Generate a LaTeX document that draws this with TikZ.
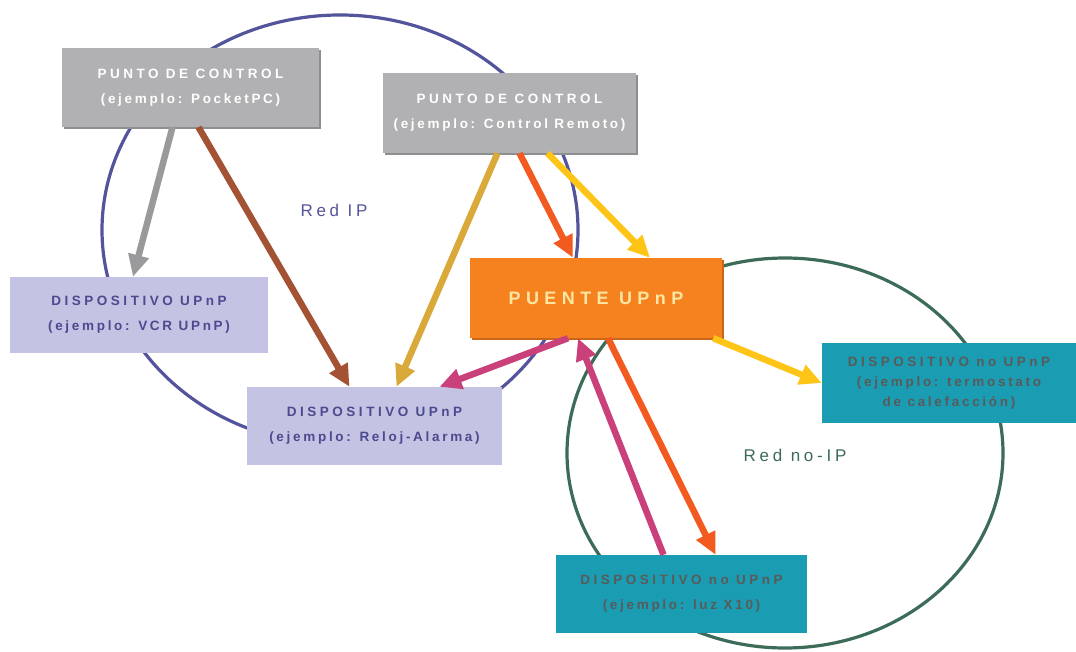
\documentclass[tikz,border=0pt]{standalone}
\usepackage{fontspec}
\setmainfont{Liberation Sans}
\newfontfamily\capsfont[LetterSpace=26]{Liberation Sans}
\newfontfamily\lowfont[LetterSpace=20]{Liberation Sans}
\newfontfamily\bridgefont[LetterSpace=30]{Liberation Sans}
\newfontfamily\labelfont[LetterSpace=22]{Liberation Sans}
\usetikzlibrary{arrows.meta,shadows}

% palette
\definecolor{ctrlgrey}{HTML}{B1B1B3}
\definecolor{ctrlshade}{HTML}{8E8E92}
\definecolor{devlav}{HTML}{C5C3E3}
\definecolor{devtext}{HTML}{4B4A8E}
\definecolor{bridgeorange}{HTML}{F5821F}
\definecolor{bridgeshade}{HTML}{C9661A}
\definecolor{bridgetext}{HTML}{FDE6A2}
\definecolor{tealbox}{HTML}{1A9DB3}
\definecolor{tealtext}{HTML}{5A5A58}
\definecolor{ipblue}{HTML}{54549C}
\definecolor{nongreen}{HTML}{3C6B58}
\definecolor{agrey}{HTML}{9A9A9C}
\definecolor{abrown}{HTML}{A35234}
\definecolor{agold}{HTML}{D9A93A}
\definecolor{ared}{HTML}{F25A20}
\definecolor{ayellow}{HTML}{FFC516}
\definecolor{amagenta}{HTML}{C9407A}

\tikzset{
  box/.style={rectangle, inner sep=0pt, align=center},
  ctrlbox/.style={box, fill=ctrlgrey, text=white,
    general shadow={fill=ctrlshade, shadow xshift=2pt, shadow yshift=-2pt},
    font=\fontsize{13.5}{25}\selectfont\bfseries},
  devbox/.style={box, fill=devlav, text=devtext,
    font=\fontsize{13.5}{25}\selectfont\bfseries},
  bridgebox/.style={box, fill=bridgeorange, text=bridgetext,
    general shadow={fill=bridgeshade, shadow xshift=2pt, shadow yshift=-2pt},
    font=\fontsize{18}{20}\selectfont\bfseries},
  nonbox/.style={box, fill=tealbox, text=tealtext,
    font=\fontsize{13.5}{25}\selectfont\bfseries},
  netlabel/.style={font=\fontsize{17}{19}\selectfont\labelfont},
  link/.style={line width=6.5pt, -{Triangle[length=22pt,width=20pt]}},
}

\begin{document}
\begin{tikzpicture}[x=1pt,y=-1pt]
  \fill[white] (0,0) rectangle (1076,652);
  \useasboundingbox (0,0) rectangle (1076,652);

  % the two networks
  \draw[ipblue, line width=3.2pt] (340,230) ellipse [x radius=238pt, y radius=215pt];
  \draw[nongreen, line width=3.2pt] (785,453) ellipse [x radius=218pt, y radius=195pt];

  \node[netlabel, text=ipblue] (ipnet) at (334,210) {Red IP};
  \node[netlabel, text=nongreen] (nonipnet) at (795,455) {Red no-IP};

  % control points
  \node[ctrlbox, minimum width=257pt, minimum height=79pt] (pc1) at (190.5,87.5)
    {{\capsfont PUNTO DE CONTROL}\\{\lowfont (ejemplo: PocketPC)}};
  \node[ctrlbox, minimum width=253pt, minimum height=80pt] (pc2) at (509.5,113)
    {{\capsfont PUNTO DE CONTROL}\\{\lowfont (ejemplo: Control Remoto)}};

  % UPnP devices
  \node[devbox, minimum width=258pt, minimum height=76pt] (vcr) at (139,315)
    {{\capsfont DISPOSITIVO UPnP}\\{\lowfont (ejemplo: VCR UPnP)}};
  \node[devbox, minimum width=255pt, minimum height=78pt] (clock) at (374.5,426)
    {{\capsfont DISPOSITIVO UPnP}\\{\lowfont (ejemplo: Reloj-Alarma)}};

  % bridge
  \node[bridgebox, minimum width=252pt, minimum height=80pt] (bridge) at (596,298)
    {\bridgefont PUENTE UPnP};

  % non-UPnP devices
  \node[nonbox, minimum width=254pt, minimum height=80pt,
        font=\fontsize{13.5}{20}\selectfont\bfseries] (thermo) at (949,383)
    {{\capsfont DISPOSITIVO no UPnP}\\{\lowfont (ejemplo: termostato}\\{\lowfont de calefacción)}};
  \node[nonbox, minimum width=251pt, minimum height=78pt] (light) at (681.5,594)
    {{\capsfont DISPOSITIVO no UPnP}\\{\lowfont (ejemplo: luz X10)}};

  % messages
  \draw[link, agrey]    ([xshift=-18pt]pc1.south) -- ([xshift=-6pt]vcr.north);
  \draw[link, abrown]   ([xshift=8pt]pc1.south)   -- ([xshift=-25pt]clock.north);
  \draw[link, agold]    ([xshift=-12pt]pc2.south) -- ([xshift=22pt]clock.north);
  \draw[link, ared]     ([xshift=10pt]pc2.south)  -- ([xshift=-23pt]bridge.north);
  \draw[link, ayellow]  ([xshift=38pt]pc2.south)  -- ([xshift=54pt]bridge.north);
  \draw[link, amagenta] ([xshift=-28pt]bridge.south) -- ([xshift=65pt]clock.north);
  \draw[link, amagenta] ([xshift=-18pt]light.north) -- ([xshift=-18pt]bridge.south);
  \draw[link, ared]     ([xshift=12pt]bridge.south) -- ([xshift=34pt]light.north);
  \draw[link, ayellow]  ([xshift=-9pt]bridge.south east) -- (thermo.west);
\end{tikzpicture}
\end{document}
